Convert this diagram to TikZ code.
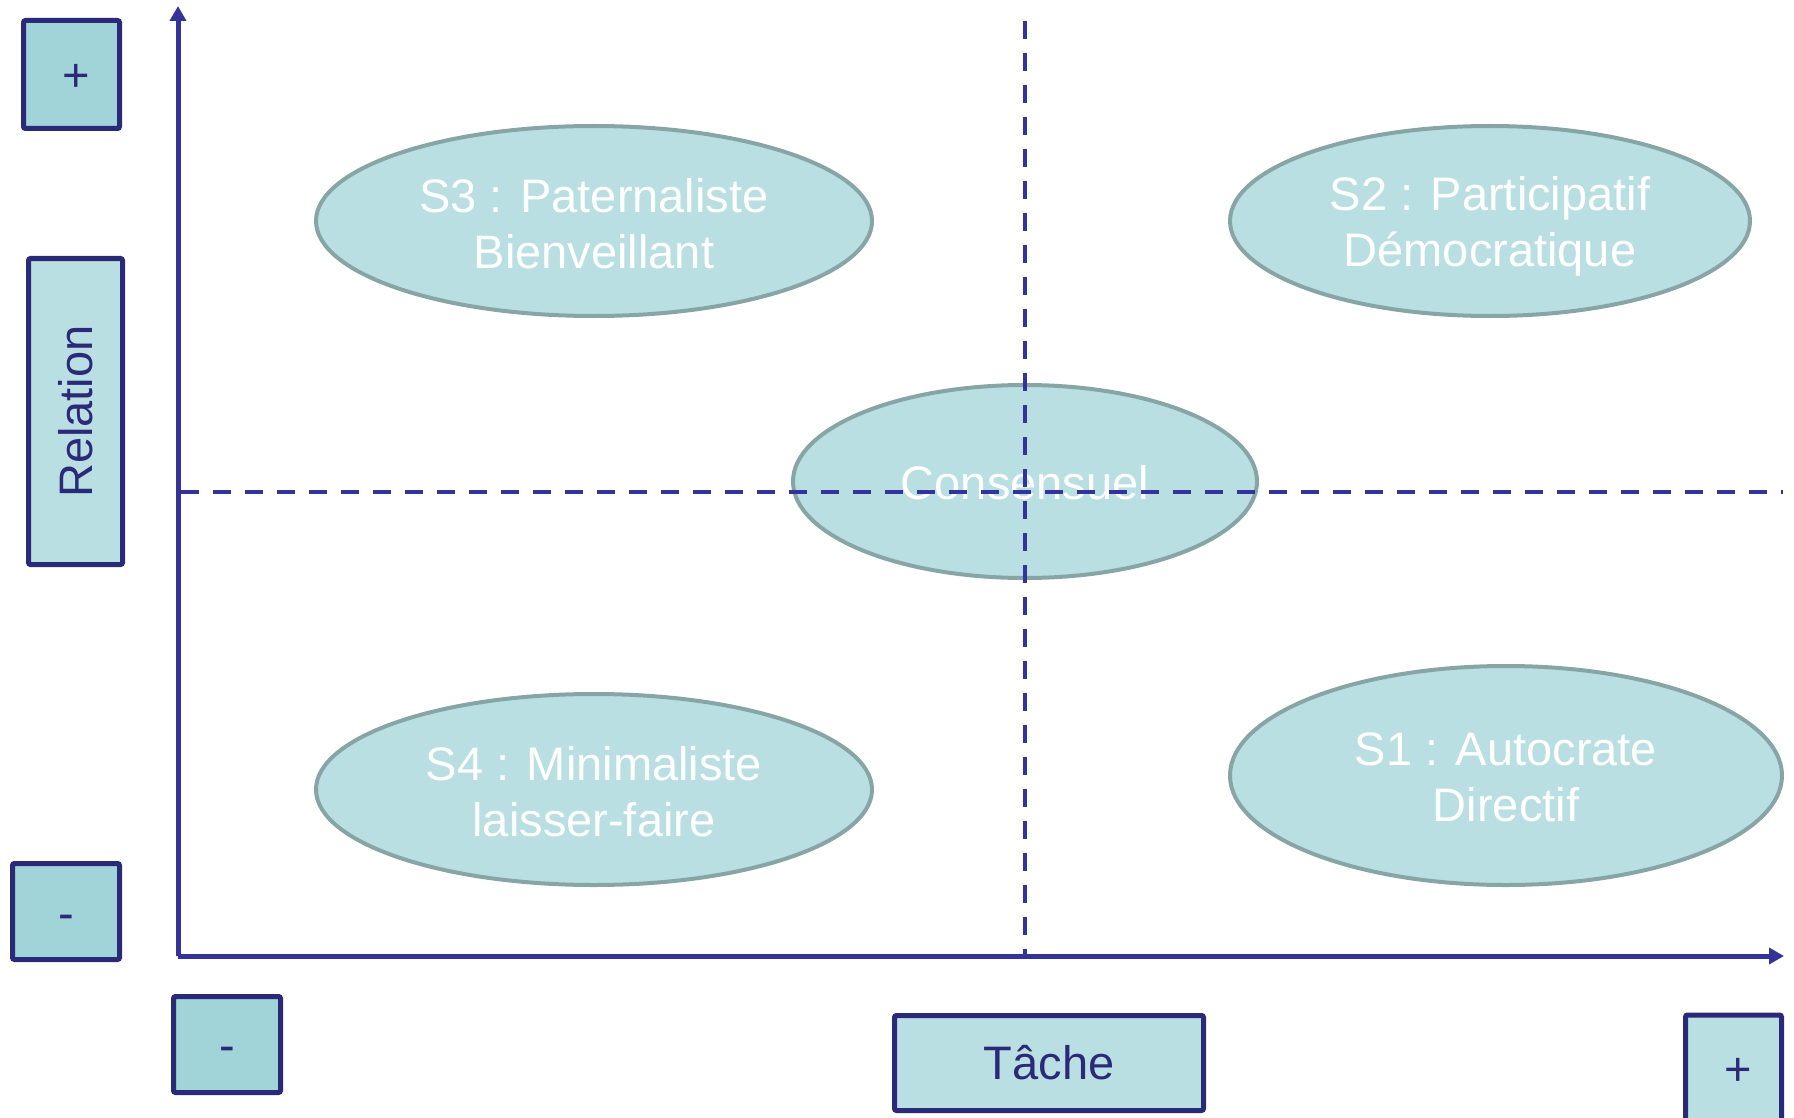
\documentclass[tikz,border=0pt]{standalone}
\usepackage{fontspec}
\setmainfont{Liberation Sans}
\usetikzlibrary{shapes.geometric,arrows.meta}
\definecolor{navy}{HTML}{2A2A78}
\definecolor{axisblue}{HTML}{33339A}
\definecolor{boxteal}{HTML}{A0D4D8}
\definecolor{paleteal}{HTML}{B9DFE2}
\definecolor{rimgrey}{HTML}{88A5A6}
% a sign set on a zero-size box, so that it can be placed freely in its frame
\newcommand{\signmark}[2]{\raisebox{#1}[0pt][0pt]{#2}}
\begin{document}
\begin{tikzpicture}[x=1pt,y=-1pt,
  labelbox/.style={draw=navy, line width=5pt, fill=boxteal, rounded corners=2pt,
    text=navy, font=\fontsize{47}{56}\selectfont, inner sep=0pt},
  lightbox/.style={labelbox, fill=paleteal},
  style/.style={ellipse, draw=rimgrey, line width=4pt, fill=paleteal, inner sep=0pt},
  styletext/.style={text=white, align=center, inner sep=0pt, font=\fontsize{47}{56}\selectfont},
  guide/.style={draw=axisblue, line width=4pt, dash pattern=on 18pt off 14pt},
  axisline/.style={draw=axisblue, line width=5pt, -{Triangle[length=15pt,width=16pt]}}
]
\useasboundingbox (0,0) rectangle (1794,1118);

% level markers on the axes
\node[labelbox, minimum width=96pt, minimum height=108pt] (rplus) at (71.5,74.5) {\hspace*{9pt}\signmark{-16.6pt}{+}};
\node[labelbox, minimum width=107pt, minimum height=96pt] (rminus) at (66,911.5) {\signmark{-18pt}{-}};
\node[labelbox, minimum width=107pt, minimum height=96pt] (tminus) at (227,1044.5) {\signmark{-17pt}{-}};
\node[lightbox, minimum width=96pt, minimum height=110pt] (tplus) at (1733.5,1070) {\hspace*{9pt}\signmark{-15.6pt}{+}};
\node[lightbox, minimum width=309pt, minimum height=95pt] (tache) at (1049,1063) {Tâche};
\node[lightbox, minimum width=94pt, minimum height=306pt] (relation) at (75.5,411.5) {};
\node[rotate=90, text=navy, font=\fontsize{47}{56}\selectfont] (relationtext) at (relation.center) {Relation};

% management styles
\node[style, minimum width=556pt, minimum height=190pt] (s3) at (594,221) {};
\node[style, minimum width=520pt, minimum height=190pt] (s2) at (1490,221) {};
\node[style, minimum width=556pt, minimum height=191pt] (s4) at (594,789.5) {};
\node[style, minimum width=552pt, minimum height=219pt] (s1) at (1506,775.5) {};
\node[style, minimum width=464pt, minimum height=193pt] (consensus) at (1025,481.5) {};
\node[styletext, yshift=-2.5pt] (s3text) at (s3.center) {S3 : Paternaliste\\Bienveillant};
\node[styletext, yshift=-5.7pt] (s2text) at (s2.center) {S2 : Participatif\\Démocratique};
\node[styletext, yshift=-2pt] (s4text) at (s4.center) {S4 : Minimaliste\\laisser-faire};
\node[styletext, yshift=-1.8pt] (s1text) at (s1.center) {S1 : Autocrate\\Directif};
\node[styletext, yshift=-1pt] (consensustext) at (consensus.center) {Consensuel};

% quadrant guides
\coordinate (vtop) at (1025,21);
\coordinate (vbottom) at (1025,956);
\coordinate (hleft) at (181,492);
\coordinate (hright) at (1783,492);
\draw[guide] (vtop) -- (vbottom);
\draw[guide] (hleft) -- (hright);

% axes
\coordinate (origin) at (178,956);
\coordinate (ytip) at (178,6);
\coordinate (xtip) at (1784,956);
\draw[axisline] (origin) -- (ytip);
\draw[axisline] (origin) -- (xtip);
\end{tikzpicture}
\end{document}
